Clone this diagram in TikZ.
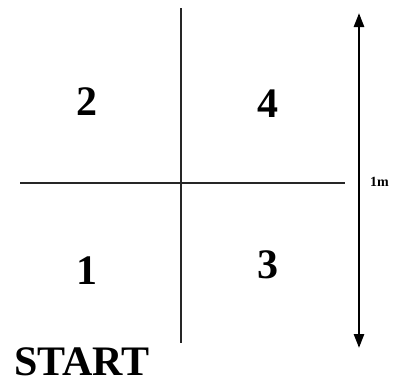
\documentclass[tikz,border=0pt]{standalone}
\usepackage{fontspec}
\setmainfont{Liberation Serif}
\usetikzlibrary{arrows.meta}
\begin{document}
\begin{tikzpicture}[x=1pt,y=-1pt,
  num/.style={font=\fontsize{42}{42}\selectfont\bfseries, inner sep=0pt},
  gridline/.style={line width=1.3pt, black!85},
  dim/.style={line width=2.6pt, {Triangle[length=14pt,width=10pt]}-{Triangle[length=14pt,width=10pt]}}]
\useasboundingbox (0,0) rectangle (395,383);
\coordinate (vt) at (181,8);
\coordinate (vb) at (181,343);
\coordinate (hl) at (20,183);
\coordinate (hr) at (345,183);
\draw[gridline] (vt) -- (vb);
\draw[gridline] (hl) -- (hr);
\coordinate (at) at (359,13);
\coordinate (ab) at (359,348);
\draw[dim] (at) -- (ab);
\node[num] (n2) at (87,102) {2};
\node[num] (n4) at (268,104) {4};
\node[num] (n1) at (87,271) {1};
\node[num] (n3) at (268,265) {3};
\node[font=\fontsize{14}{14}\selectfont\bfseries, anchor=base west, inner sep=0pt] (lab) at (370,186) {1m};
\node[font=\fontsize{42}{42}\selectfont\bfseries, anchor=base west, inner sep=0pt] (start) at (14,375) {START};
\end{tikzpicture}
\end{document}
